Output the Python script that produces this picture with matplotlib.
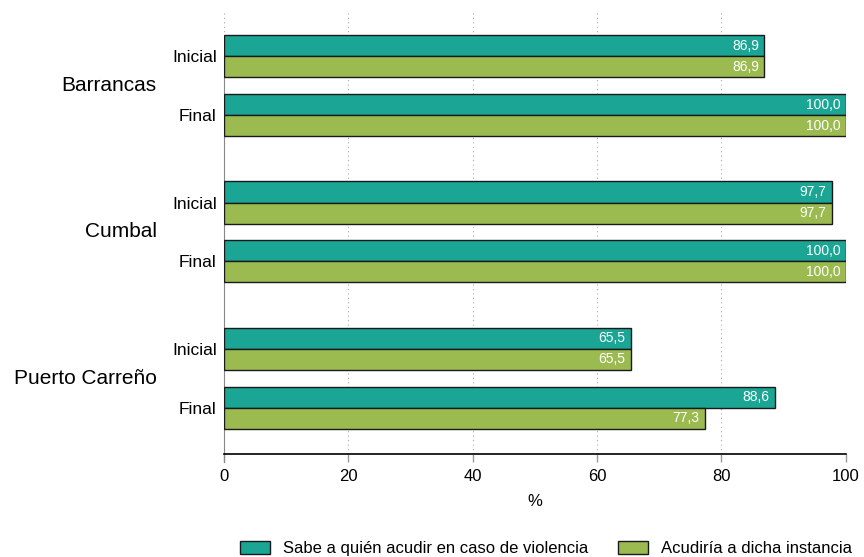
import numpy as np
import matplotlib.pyplot as plt

plt.rcParams['font.family'] = ['Liberation Sans', 'DejaVu Sans']

ciudades = ["Barrancas", "Cumbal", "Puerto Carreño"]
periodos = ["Inicial", "Final"]
sabe = [86.9, 100.0, 97.7, 100.0, 65.5, 88.6]
acudiria = [86.9, 100.0, 97.7, 100.0, 65.5, 77.3]
series = ["Sabe a quién acudir en caso de violencia", "Acudiría a dicha instancia"]
colores = ["#1ba594", "#9bbb51"]

fig = plt.figure(figsize=(8.64, 5.57), dpi=100)
ax = fig.add_axes([0.259, 0.185, 0.72, 0.797])

# posiciones: ciudad i, periodo j
centros = []
for i in range(len(ciudades)):
    for j in range(len(periodos)):
        centros.append(i * 6.95 + j * 2.8)
centros = np.array(centros)
h = 1.0

b1 = ax.barh(centros - h / 2, sabe, height=h, color=colores[0], edgecolor="#1a1a1a",
             linewidth=1, label=series[0], zorder=3)
b2 = ax.barh(centros + h / 2, acudiria, height=h, color=colores[1], edgecolor="#1a1a1a",
             linewidth=1, label=series[1], zorder=3)

for bars, vals in [(b1, sabe), (b2, acudiria)]:
    for b, v in zip(bars, vals):
        ax.text(v - 0.9, b.get_y() + b.get_height() / 2, f"{v:.1f}".replace(".", ","),
                ha="right", va="center", color="white", fontsize=10, zorder=4)

ax.set_xlim(0, 100)
ax.set_ylim(centros[-1] + 2.2, centros[0] - 2.2)
ax.set_xticks([0, 20, 40, 60, 80, 100])
ax.tick_params(axis="x", labelsize=12, length=6, color="#999999", width=1, pad=5)
ax.set_yticks(centros)
ax.set_yticklabels(periodos * len(ciudades), fontsize=12.5)
ax.tick_params(axis="y", length=0, pad=5)
ax.xaxis.grid(True, linestyle=(0, (1, 3)), color="#aaaaaa", linewidth=0.8, zorder=0)

for sp in ["top", "right"]:
    ax.spines[sp].set_visible(False)
ax.spines["bottom"].set_color("black")
ax.spines["bottom"].set_linewidth(1.2)
ax.spines["left"].set_color("#888888")
ax.spines["left"].set_bounds(centros[0], centros[-1] + 2.6)

for i, c in enumerate(ciudades):
    yc = (centros[2 * i] + centros[2 * i + 1]) / 2
    ax.text(-0.108, yc, c, transform=ax.get_yaxis_transform(), ha="right", va="center",
            fontsize=15)

ax.set_xlabel("%", fontsize=12, labelpad=7)

fig.legend(handles=[b1, b2], labels=series, loc="lower center", ncol=2,
           bbox_to_anchor=(0.632, -0.025), frameon=False, fontsize=12,
           handlelength=1.8, handleheight=0.8, handletextpad=0.8, columnspacing=1.75)

fig.savefig("out.png", dpi=100)
